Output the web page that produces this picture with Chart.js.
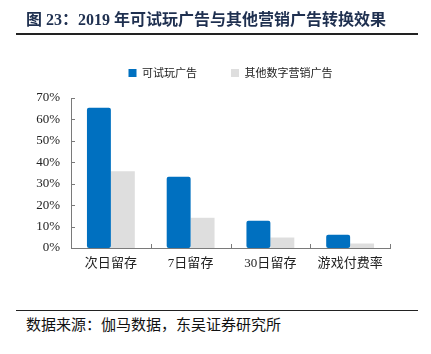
<!DOCTYPE html>
<html>
<head>
<meta charset="utf-8">
<script src="https://cdn.jsdelivr.net/npm/chart.js@4/dist/chart.umd.min.js"></script>
<style>
  html, body { margin: 0; padding: 0; background: #fff; }
  #wrap { position: relative; width: 431px; height: 354px; overflow: hidden; background: #fff; }
  #title { position: absolute; left: 26px; top: 9px; font: bold 16px 'Liberation Serif', 'Noto Sans CJK SC', serif; color: #1f3050; white-space: nowrap; line-height: 22px; }
  .rule { position: absolute; left: 16px; width: 402px; height: 1.5px; background: #222; }
  #source { position: absolute; left: 26px; top: 314px; font: 15px 'Noto Sans CJK SC', sans-serif; color: #111; white-space: nowrap; line-height: 20px; }
  #cv { position: absolute; left: 0; top: 0; }
</style>
</head>
<body>
<div id="wrap">
  <canvas id="cv" width="431" height="280"></canvas>
  <div id="title">图 23：2019 年可试玩广告与其他营销广告转换效果</div>
  <div class="rule" style="top:33px"></div>
  <div class="rule" style="top:309.5px"></div>
  <div id="source">数据来源：伽马数据，东吴证券研究所</div>
</div>
<script>
const categories = ['次日留存', '7日留存', '30日留存', '游戏付费率'];
const seriesNames = ['可试玩广告', '其他数字营销广告'];
const playableAds = [65.4, 33.2, 12.7, 6.2];
const otherAds = [35.8, 14.1, 4.9, 2.1];
const yTicks = [0, 10, 20, 30, 40, 50, 60, 70];

const serifCJK = "'Liberation Serif', 'Noto Sans CJK SC', serif";

const innerTicks = {
  id: 'innerTicks',
  afterDraw(chart) {
    const ctx = chart.ctx;
    const x = chart.scales.x, y = chart.scales.y;
    const half = (x.right - x.left) / categories.length / 2;
    ctx.save();
    ctx.strokeStyle = '#7a7a7a';
    ctx.lineWidth = 1;
    ctx.beginPath();
    yTicks.forEach(v => {
      const py = Math.round(y.getPixelForValue(v)) + 0.5;
      ctx.moveTo(x.left, py);
      ctx.lineTo(x.left + 4, py);
    });
    for (let i = 0; i < categories.length; i++) {
      const px = Math.round(x.getPixelForValue(i) + half) + 0.5;
      ctx.moveTo(px, y.bottom);
      ctx.lineTo(px, y.bottom - 4);
    }
    ctx.stroke();
    ctx.restore();
  }
};

const legendSize = {
  id: 'legendSize',
  beforeInit(chart) {
    const origFit = chart.legend.fit;
    chart.legend.fit = function () {
      origFit.bind(chart.legend)();
      this.height = 64.5;
    };
  }
};

new Chart(document.getElementById('cv'), {
  type: 'bar',
  data: {
    labels: categories,
    datasets: [
      { label: seriesNames[0], data: playableAds, backgroundColor: '#0070C0', borderRadius: 2, borderSkipped: false, categoryPercentage: 0.6, barPercentage: 1.0 },
      { label: seriesNames[1], data: otherAds, backgroundColor: '#DEDEDE', borderRadius: 0, categoryPercentage: 0.6, barPercentage: 1.0 }
    ]
  },
  options: {
    responsive: false,
    animation: false,
    devicePixelRatio: 1,
    layout: { padding: { top: 33.5, right: 41, bottom: 0, left: 0 } },
    plugins: {
      legend: {
        position: 'top',
        fullSize: false,
        align: 'center',
        labels: {
          boxWidth: 8, boxHeight: 8, padding: 34,
          color: '#222',
          font: { family: "'Noto Sans CJK SC', sans-serif", size: 11 }
        }
      },
      tooltip: { enabled: false },
      title: { display: false }
    },
    scales: {
      x: {
        grid: { display: false, drawTicks: false },
        border: { display: true, color: '#7a7a7a', width: 1 },
        ticks: { color: '#222', padding: 8, font: { family: serifCJK, size: 13 }, maxRotation: 0 },
        afterFit(scale) { scale.height = 32; }
      },
      y: {
        min: 0, max: 70,
        grid: { display: false, drawTicks: false },
        border: { display: true, color: '#7a7a7a', width: 1 },
        afterBuildTicks(scale) { scale.ticks = yTicks.map(v => ({ value: v })); },
        ticks: { color: '#222', padding: 11, autoSkip: false, font: { family: serifCJK, size: 13 }, callback: v => v + '%' },
        afterFit(scale) { scale.width = 71; }
      }
    }
  },
  plugins: [innerTicks, legendSize]
});
</script>
</body>
</html>
